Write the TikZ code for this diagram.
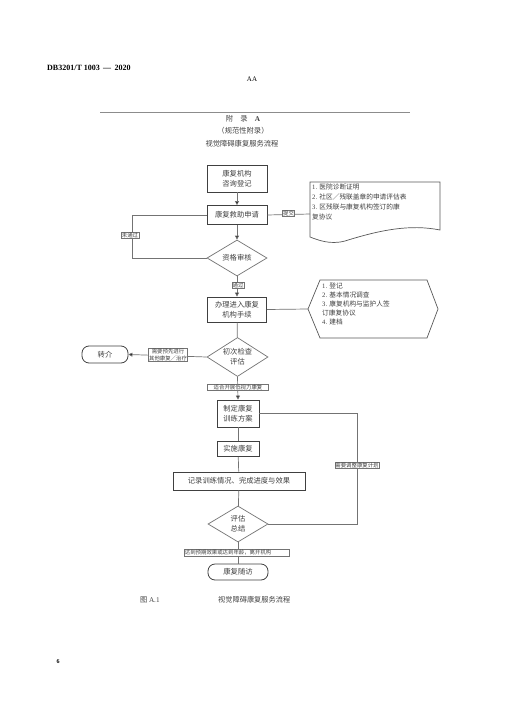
\documentclass[tikz,border=0pt]{standalone}
\usepackage{fontspec}
\setmainfont{Liberation Serif}
\newfontfamily\cjk{Noto Sans CJK SC}
\usetikzlibrary{shapes.geometric,arrows.meta}
\begin{document}
\begin{tikzpicture}[x=1pt,y=-1pt,
  ln/.style={draw=black!55,line width=0.7pt},
  arr/.style={ln,-{Triangle[length=4pt,width=4pt,fill=black]}},
  boxs/.style={draw=black!75,line width=0.8pt,inner sep=0pt,font=\cjk\fontsize{7.3}{10}\selectfont,align=center,text=black!75},
  dia/.style={draw=black!55,line width=0.7pt,inner sep=0pt,font=\cjk\fontsize{7.3}{10}\selectfont,align=center,text=black!75},
  lab/.style={draw=black!55,line width=0.4pt,fill=white,inner sep=0.7pt,font=\cjk\fontsize{5.4}{6.8}\selectfont,align=center,text=black!75},
  txt/.style={inner sep=0pt,font=\cjk\fontsize{7.3}{9}\selectfont,text=black!75}]
\useasboundingbox[fill=white] (0,0) rectangle (505,714);

% header
\node[anchor=west,inner sep=0pt,font=\bfseries\fontsize{8}{9}\selectfont] (hdr) at (47,68) {DB3201/T 1003 \,—\, 2020};
\node[inner sep=0pt,font=\fontsize{7}{8}\selectfont] (aa) at (252,79) {AA};
\coordinate (fl) at (100,112);
\coordinate (fr) at (410,112);
\draw[draw=black!45,line width=0.8pt] (fl) -- (fr);
\node[txt] (t1) at (243,119) {附\quad 录\quad {\rmfamily\bfseries A}};
\node[txt] (t2) at (243,131) {（规范性附录）};
\node[txt] (t3) at (242,144) {视觉障碍康复服务流程};

% nodes
\node[boxs,minimum width=60pt,minimum height=27pt] (reg) at (237,178.5) {康复机构\\咨询登记};
\node[boxs,minimum width=60pt,minimum height=19pt] (apply) at (237,215) {康复救助申请};
\node[dia,diamond,aspect=1.7,minimum width=60pt,minimum height=36pt] (check) at (237,258) {资格审核};
\node[boxs,minimum width=59pt,minimum height=25pt] (enter) at (237,309.5) {办理进入康复\\机构手续};
\node[dia,diamond,aspect=1.6,minimum width=61pt,minimum height=39pt] (first) at (237.5,357) {初次检查\\评估};
\node[draw=black!75,line width=0.8pt,rounded corners=7pt,minimum width=46pt,minimum height=17pt,inner sep=0pt,font=\cjk\fontsize{7.3}{9}\selectfont,text=black!75] (refer) at (105,354.5) {转介};
\node[boxs,minimum width=42pt,minimum height=27pt] (plan) at (238,413.5) {制定康复\\训练方案};
\node[boxs,minimum width=42pt,minimum height=15pt] (impl) at (238,449) {实施康复};
\node[boxs,minimum width=132pt,minimum height=18pt] (rec) at (239,481) {记录训练情况、完成进度与效果};
\node[dia,diamond,aspect=1.65,minimum width=60pt,minimum height=36pt] (eval) at (238,524) {评估\\总结};
\node[draw=black!75,line width=0.8pt,rounded corners=7pt,minimum width=60pt,minimum height=16pt,inner sep=0pt,font=\cjk\fontsize{7.3}{9}\selectfont,text=black!75] (follow) at (238,572) {康复随访};

% document shape
\coordinate (docl) at (310,214);
\draw[ln,draw=black!65] (310,182) -- (440,182) -- (440,230)
  .. controls (410,224) and (380,230) .. (345,241)
  .. controls (330,245) and (318,240) .. (310,237) -- cycle;
\node[anchor=north west,inner sep=0pt,font=\cjk\fontsize{6.7}{9.8}\selectfont,align=left,text=black!75] (doctxt) at (312,184)
  {{\rmfamily 1}. 医院诊断证明\\{\rmfamily 2}. 社区／残联盖章的申请评估表\\{\rmfamily 3}. 区残联与康复机构签订的康\\复协议};

% hexagon shape
\coordinate (hexl) at (308,309);
\draw[ln,draw=black!65] (hexl) -- (320,280) -- (427,280) -- (438,309) -- (427,338) -- (320,338) -- cycle;
\node[anchor=north west,inner sep=0pt,font=\cjk\fontsize{6.7}{8.9}\selectfont,align=left,text=black!75] (hextxt) at (322,283)
  {{\rmfamily 1}. 登记\\{\rmfamily 2}. 基本情况调查\\{\rmfamily 3}. 康复机构与监护人签\\订康复协议\\{\rmfamily 4}. 建档};

% connectors
\draw[arr] (reg) -- (apply);
\draw[arr] (apply) -- (check);
\draw[ln] (apply.west) -- (132,215) -- (132,258) -- (check.west);
\node[lab] (nopass) at (130,235) {未通过};
\draw[ln] (apply.east) -- (docl);
\node[lab] (submit) at (288.5,213) {提交};
\draw[arr] (check.south) -- (enter.north);
\node[lab] (pass) at (238,285) {通过};
\draw[ln] (enter.east) -- (hexl);
\draw[ln] (enter) -- (first);
\draw[arr] (first.west) -- (refer.east);
\node[lab] (pre) at (168,355) {需要预先进行\\其他康复／治疗};
\draw[arr] (first.south) -- (plan.north);
\node[lab,minimum width=61pt] (fit) at (238,387) {适合开展低视力康复};
\draw[ln] (plan) -- (impl);
\draw[ln] (impl) -- (rec);
\draw[ln] (rec) -- (eval);
\draw[ln] (eval) -- (follow);
\draw[ln] (plan.east) -- (357,413.5) -- (357,524) -- (eval.east);
\node[lab] (adjust) at (357,465) {需要调整康复计划};
\node[lab,anchor=west,text width=104pt,align=left] (done) at (184,552.5) {达到预期效果或达到年龄，离开机构};

% caption
\node[anchor=west,inner sep=0pt,font=\cjk\fontsize{7.2}{8}\selectfont,text=black!75] (figno) at (140,600) {图 {\rmfamily A.1}};
\node[anchor=west,inner sep=0pt,font=\cjk\fontsize{7.2}{8}\selectfont,text=black!75] (figt) at (218,600) {视觉障碍康复服务流程};
\node[inner sep=0pt,font=\bfseries\fontsize{6}{7}\selectfont] (pg) at (58,662) {6};
\end{tikzpicture}
\end{document}
